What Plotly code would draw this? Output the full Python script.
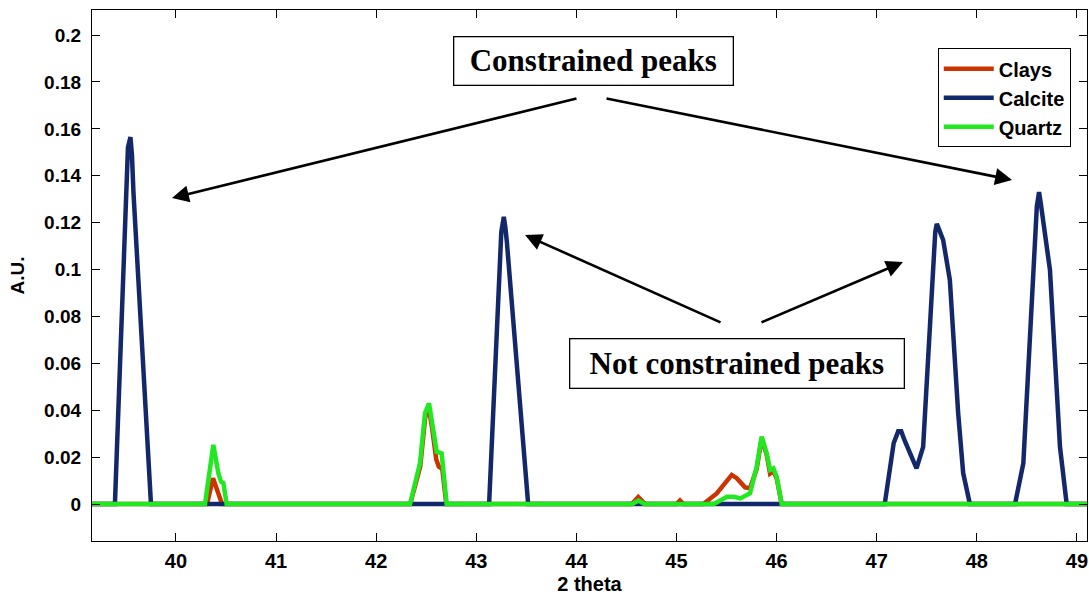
import plotly.graph_objects as go

# ---- diffraction profiles (2 theta, arbitrary units) ----
clays_x = [39.10, 40.31, 40.37, 40.46,
           42.34, 42.44, 42.49, 42.525, 42.56, 42.60, 42.625, 42.66, 42.70,
           44.555, 44.618, 44.687,
           45.00, 45.035, 45.07,
           45.268, 45.402, 45.552, 45.602, 45.685, 45.735, 45.801, 45.851, 45.901,
           45.935, 45.968, 46.001, 46.051, 49.20]
clays_y = [0, 0, 0.011, 0,
           0, 0.016, 0.037, 0.041, 0.032, 0.019, 0.016, 0.015, 0,
           0, 0.003, 0,
           0, 0.0015, 0,
           0, 0.0045, 0.0124, 0.011, 0.0071, 0.0067, 0.015, 0.028, 0.021,
           0.013, 0.014, 0.011, 0, 0]

calcite_x = [39.10, 39.39, 39.52, 39.535, 39.545, 39.56, 39.575, 39.75,
             43.128, 43.25, 43.263, 43.275, 43.29, 43.305, 43.518,
             47.08, 47.17, 47.215, 47.245, 47.28, 47.398, 47.464, 47.585, 47.60, 47.615, 47.664,
             47.731, 47.814, 47.864, 47.931,
             48.382, 48.465, 48.60, 48.612, 48.622, 48.64, 48.665, 48.731, 48.831, 48.898, 49.20]
calcite_y = [0, 0, 0.152, 0.1565, 0.1565, 0.149, 0.133, 0,
             0, 0.116, 0.1215, 0.1225, 0.118, 0.112, 0,
             0, 0.026, 0.031, 0.031, 0.027, 0.0152, 0.0244, 0.116, 0.1195, 0.118, 0.1126,
             0.0955, 0.0388, 0.0132, 0,
             0, 0.0174, 0.127, 0.1325, 0.133, 0.128, 0.121, 0.0998, 0.0244, 0, 0]

quartz_x = [39.10, 40.29, 40.373, 40.423, 40.45, 40.473, 40.506,
            42.338, 42.438, 42.488, 42.528, 42.57, 42.604, 42.654, 42.704,
            44.56, 44.62, 44.68,
            45.372, 45.505, 45.572, 45.638, 45.735, 45.801, 45.851, 45.901,
            45.935, 45.968, 46.001, 46.051, 49.20]
quartz_y = [0, 0, 0.0252, 0.0131, 0.0095, 0.009, 0,
            0, 0.0175, 0.0388, 0.0429, 0.0316, 0.0223, 0.0216, 0,
            0, 0.0015, 0,
            0, 0.0031, 0.0031, 0.0024, 0.0046, 0.0159, 0.0287, 0.0216,
            0.0145, 0.0152, 0.0116, 0, 0]

x_ticks = [40, 41, 42, 43, 44, 45, 46, 47, 48, 49]
y_ticks = [0, 0.02, 0.04, 0.06, 0.08, 0.1, 0.12, 0.14, 0.16, 0.18, 0.2]
y_ticklabels = ["0", "0.02", "0.04", "0.06", "0.08", "0.1", "0.12", "0.14", "0.16", "0.18", "0.2"]

RED = "#cc3300"
NAVY = "#13286b"
GREEN = "#22e822"
SANS = "Liberation Sans, Arial, sans-serif"
SERIF = "Liberation Serif, Times New Roman, serif"

fig = go.Figure()
for name, xs, ys, col in [("Clays", clays_x, clays_y, RED),
                          ("Calcite", calcite_x, calcite_y, NAVY),
                          ("Quartz", quartz_x, quartz_y, GREEN)]:
    fig.add_trace(go.Scatter(x=xs, y=ys, mode="lines", name=name,
                             line=dict(color=col, width=4.5)))

# arrows: (head_x, head_y, tail_x, tail_y)
arrows = [(39.96, 0.1305, 44.016, 0.1731),
          (48.352, 0.1382, 44.286, 0.1731),
          (43.487, 0.1147, 45.455, 0.0772),
          (47.263, 0.1032, 45.834, 0.0772)]
for hx, hy, tx, ty in arrows:
    fig.add_annotation(x=hx, y=hy, ax=tx, ay=ty, xref="x", yref="y",
                       axref="x", ayref="y", text="", showarrow=True,
                       arrowhead=2, arrowsize=1.3, arrowwidth=2.6,
                       arrowcolor="black")

fig.add_annotation(x=44.166, y=0.1891, xref="x", yref="y",
                   text="<b>Constrained peaks</b>", showarrow=False,
                   font=dict(family=SERIF, size=31, color="black"),
                   bgcolor="white", bordercolor="black", borderwidth=1.3,
                   borderpad=0, width=278, height=47)
fig.add_annotation(x=45.609, y=0.060, xref="x", yref="y",
                   text="<b>Not constrained peaks</b>", showarrow=False,
                   font=dict(family=SERIF, size=31, color="black"),
                   bgcolor="white", bordercolor="black", borderwidth=1.3,
                   borderpad=0, width=333, height=48)

fig.update_layout(
    width=1089, height=596,
    margin=dict(l=92, r=2, t=10, b=55),
    paper_bgcolor="white", plot_bgcolor="white",
    showlegend=True,
    legend=dict(x=0.850, y=0.928, xanchor="left", yanchor="top",
                bgcolor="white", bordercolor="black", borderwidth=1,
                font=dict(family=SANS, size=20, color="black", weight="bold"),
                itemwidth=50, tracegroupgap=0),
    xaxis=dict(range=[39.161, 49.101], tickvals=x_ticks,
               ticks="inside", ticklen=8, tickwidth=1, tickcolor="black",
               showline=True, linecolor="black", linewidth=1.3, mirror="allticks",
               showgrid=False, zeroline=False, ticklabeloverflow="allow",
               ticklabelstandoff=2,
               tickfont=dict(family=SANS, size=20, color="black", weight="bold"),
               title=dict(text="2 theta", standoff=5,
                          font=dict(family=SANS, size=20, color="black", weight="bold"))),
    yaxis=dict(range=[-0.01578, 0.2107], tickvals=y_ticks, ticktext=y_ticklabels,
               ticks="inside", ticklen=8, tickwidth=1, tickcolor="black",
               showline=True, linecolor="black", linewidth=1.3, mirror="allticks",
               showgrid=False, zeroline=False, ticklabelstandoff=6,
               tickfont=dict(family=SANS, size=19, color="black", weight="bold"),
               title=dict(text="A.U.", standoff=14,
                          font=dict(family=SANS, size=19, color="black", weight="bold"))),
)

fig.write_html("out.html")
